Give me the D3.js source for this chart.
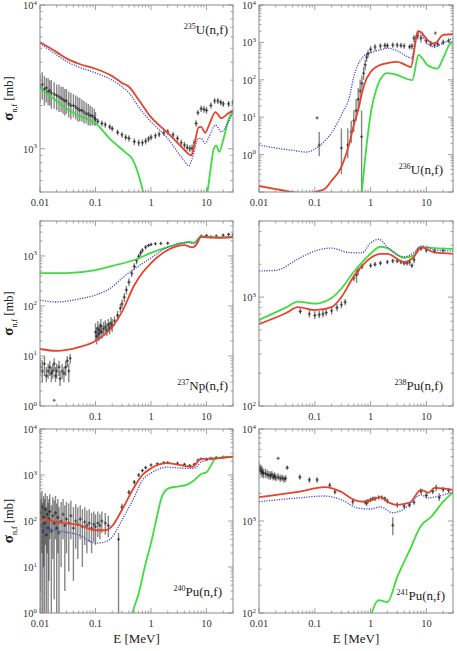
<!DOCTYPE html>
<html>
<head>
<meta charset="utf-8">
<script src="https://cdnjs.cloudflare.com/ajax/libs/d3/7.8.5/d3.min.js"></script>
<style>
body { margin: 0; background: #fff; }
svg { display: block; }
</style>
</head>
<body>
<div id="chart"></div>
<script>
// energy axis (MeV) and the tick labels
var E_DOMAIN = [0.01, 30];
var E_LABELS = [0.01, 0.1, 1, 10];

// ---- 235U(n,f) ----  [E, sigma]
var u235Red = [[0.01,5500],[0.02,4700],[0.03,4250],[0.05,3900],[0.1,3600],[0.2,3200],[0.3,2870],[0.4,2700],[0.6,2190],[1,1660],[2,1290],[3,1100],[4,980],[5.3,900],[6,1050],[7.2,1410],[8,1420],[9.5,1290],[11,1450],[14.5,1800],[18.6,1630],[24,1750],[30,1850]];
var u235Blue = [[0.01,5400],[0.02,4500],[0.03,4050],[0.05,3700],[0.1,3370],[0.2,3000],[0.3,2700],[0.4,2450],[0.6,1950],[1,1540],[2,1180],[3,950],[4,820],[4.8,760],[5.5,850],[7.2,1180],[8,1180],[9.5,1090],[11,1200],[14.5,1460],[18.6,1310],[24,1500],[30,1780]];
var u235Green = [[0.01,2640],[0.02,2150],[0.03,1900],[0.05,1700],[0.1,1510],[0.178,1180],[0.35,940],[0.46,850],[0.61,640],[0.72,500],[0.9,300],[8,300],[10.4,500],[12,750],[13.5,1000],[15,1050],[17,950],[20,1150],[25,1600],[30,1850]];
// experimental points [E, sigma, low, high]
var u235Exp = [[0.010,2700,2100,3300],[0.011,2800,2200,3400],[0.012,2600,2000,3200],[0.013,2650,2100,3100],[0.014,2500,2000,3100],[0.015,2550,2000,3000],[0.016,2450,1900,3000],[0.018,2400,1900,2900],[0.020,2350,1850,2800],[0.022,2300,1800,2800],[0.024,2250,1800,2700],[0.026,2200,1750,2700],[0.028,2150,1700,2600],[0.030,2150,1750,2600],[0.033,2050,1650,2500],[0.036,2000,1600,2450],[0.040,2000,1650,2400],[0.044,1950,1600,2350],[0.048,1900,1550,2300],[0.052,1850,1550,2250],[0.057,1850,1550,2200],[0.062,1800,1500,2150],[0.068,1750,1500,2100],[0.074,1750,1450,2050],[0.080,1700,1450,2000],[0.087,1700,1450,1950],[0.095,1650,1450,1900],[0.100,1600,1450,1800],
  [0.11,1550,1480,1620],[0.13,1500,1430,1570],[0.15,1470,1400,1540],[0.18,1420,1360,1480],[0.2,1380,1320,1440],[0.25,1300,1240,1360],[0.3,1250,1190,1310],[0.35,1200,1140,1260],[0.4,1180,1120,1240],[0.5,1120,1060,1180],[0.6,1100,1040,1160],[0.7,1100,1040,1160],[0.8,1130,1070,1190],[0.9,1170,1110,1230],[1.0,1200,1140,1260],[1.2,1230,1170,1290],[1.4,1260,1200,1320],[1.7,1290,1230,1350],[2.0,1310,1250,1370],[2.5,1250,1190,1310],[3.0,1180,1120,1240],[3.5,1100,1040,1160],[4.0,1060,1000,1120],[4.5,1020,970,1080],[5.0,1000,950,1060],[5.5,1010,960,1070],[6.0,1100,1040,1160],[6.5,1500,1420,1580],[7.0,1780,1700,1860],[8.0,1900,1800,2000],[9.0,1880,1780,1980],[10,1850,1750,1950],[12,2000,1900,2100],[14,2150,2050,2250],[16,2150,2050,2250],[18,2100,2000,2200],[20,2050,1950,2150],[25,2050,1950,2150],[30,2100,2000,2200]];

// ---- 236U(n,f) ----
var u236Red = [[0.01,0.145],[0.02,0.12],[0.03,0.107],[0.05,0.095],[0.07,0.09],[0.1,0.1],[0.15,0.12],[0.2,0.2],[0.3,0.47],[0.4,1.6],[0.5,6.2],[0.6,15.5],[0.7,44],[0.8,87],[1,162],[1.5,250],[2,280],[3,300],[4,260],[5.3,220],[6.3,900],[7,2000],[8,1900],[10,1250],[14,930],[20,1590],[30,1650]];
var u236Blue = [[0.01,1.8],[0.02,1.5],[0.04,1.3],[0.07,1.17],[0.1,1.4],[0.15,2.3],[0.2,3.8],[0.3,11.5],[0.42,36],[0.5,120],[0.7,380],[1,530],[1.5,630],[2,700],[3,600],[4,460],[5.5,380],[6.3,1200],[7,1780],[8,1700],[10,1000],[14,760],[20,960],[30,1300]];
var u236Green = [[0.55,0.02],[0.69,0.1],[0.84,1.6],[1.03,15.6],[1.26,54],[1.55,112],[2,150],[3,135],[4.5,105],[5.6,98],[7.2,460],[8.2,400],[10.4,250],[15.8,200],[20,380],[27,960],[30,1050]];
var u236Exp = [[0.11,9.6,9.6,9.6],[0.12,1.8,0.9,4],[0.3,1.5,0.3,5],[0.39,1.8,0.8,5],[0.45,4,2,8],[0.5,8,4,15],[0.55,15,8,30],[0.6,30,15,60],[0.65,50,30,100],[0.69,3,0.1,15],[0.7,80,50,130],[0.75,150,100,220],[0.8,250,180,350],[0.85,400,300,520],[0.9,500,400,620],[1.0,650,520,800],[1.2,750,600,900],[1.5,800,650,950],[1.8,830,680,980],[2.0,820,700,980],[2.5,850,720,1000],[3.0,850,720,1000],[3.5,830,700,980],[4.0,800,680,950],[5.0,760,650,900],[5.5,800,650,950],[6.0,1300,1000,1600],[7.0,1500,1200,1900],[8.0,1300,1000,1600],[10,1100,900,1350],[12,900,750,1100],[14,850,700,1050],[16,900,750,1100],[20,1000,850,1200],[25,1100,950,1300],[14.5,1780,1780,1780]];

// ---- 237Np(n,f) ----
var np237Red = [[0.01,13.8],[0.02,12.6],[0.05,15],[0.1,20],[0.2,38],[0.3,76],[0.5,260],[0.7,460],[1,720],[2,1320],[4,1650],[5.5,1480],[6.5,1650],[8,2400],[10,2350],[15,2300],[30,2350]];
var np237Blue = [[0.01,131],[0.02,120],[0.05,138],[0.1,166],[0.2,240],[0.3,360],[0.5,550],[1,910],[2,1500],[5,1850],[6,1750],[8,2450],[10,2400],[15,2350],[30,2400]];
var np237Green = [[0.01,455],[0.03,455],[0.1,520],[0.2,630],[0.5,830],[1,1150],[2,1500],[5,1900],[6,1850],[8,2500],[10,2400],[15,2350],[30,2400]];
var np237Exp = [[0.010,6,4,9],[0.011,5,3,8],[0.012,7,4,10],[0.013,4,3,6],[0.014,5,3.5,7],[0.015,6,4,8],[0.016,4.5,3,6],[0.017,5,3.5,7],[0.018,7,5,9],[0.019,4,3,6],[0.020,5,3.5,7],[0.022,6,4,8],[0.023,3.5,2.5,5],[0.025,5,3.5,7],[0.027,4.5,3,6],[0.029,6,4,8],[0.031,8,6,10],[0.033,5,3,7],[0.035,9,7,11],[0.018,1.3,1.3,1.3],
  [0.10,30,20,45],[0.105,25,17,38],[0.11,35,22,50],[0.115,28,20,40],[0.12,32,22,45],[0.125,40,28,55],[0.13,30,22,42],[0.14,35,25,48],[0.15,38,28,52],[0.16,33,25,45],[0.17,42,30,55],[0.18,36,27,48],[0.19,45,33,60],[0.20,40,30,55],
  [0.22,50,40,62],[0.25,65,52,80],[0.28,90,75,110],[0.3,110,90,135],[0.33,150,120,180],[0.36,210,170,250],[0.4,300,250,360],[0.45,450,380,530],[0.5,620,520,720],[0.55,800,680,920],[0.6,980,850,1100],[0.65,1150,1000,1300],[0.7,1300,1150,1450],[0.8,1500,1350,1650],[0.9,1620,1500,1750],[1.0,1700,1580,1820],[1.2,1750,1650,1850],[1.5,1780,1680,1880],[2.0,1800,1700,1900],
  [8,2500,2350,2650],[10,2550,2400,2700],[12,2400,2250,2550],[15,2500,2350,2650],[20,2600,2450,2750],[25,2700,2550,2850],[30,2650,2500,2800]];

// ---- 238Pu(n,f) ----
var pu238Red = [[0.01,565],[0.03,710],[0.05,810],[0.1,760],[0.2,810],[0.3,1000],[0.5,1550],[1,2290],[1.5,2500],[2,2500],[4,2100],[6,2350],[8,2880],[14,2570],[30,2500]];
var pu238Blue = [[0.01,1740],[0.02,1760],[0.05,2240],[0.1,2650],[0.2,2820],[0.4,2570],[0.7,2550],[1,3140],[1.4,3400],[2,2880],[3,2440],[4,2350],[6,2570],[8,2940],[10,2900],[14,2700],[30,2650]];
var pu238Green = [[0.01,616],[0.03,800],[0.05,910],[0.1,870],[0.2,980],[0.3,1200],[0.5,1700],[1,2500],[1.5,2900],[2,2820],[4,2290],[6,2440],[8,2880],[14,2820],[30,2770]];
var pu238Exp = [[0.055,740,700,790],[0.08,700,650,760],[0.1,680,630,740],[0.12,690,640,750],[0.14,700,650,760],[0.16,720,670,780],[0.2,750,690,820],[0.25,800,740,870],[0.3,850,790,920],[0.35,900,840,960],[0.5,1500,1400,1600],[0.56,1600,1350,1780],[0.6,1750,1600,1900],[0.7,1900,1800,2000],
  [1.0,1950,1850,2050],[1.2,2000,1900,2100],[1.5,2050,1950,2150],[2.0,2100,2000,2200],[2.5,2150,2050,2250],[3.0,2150,2050,2250],[3.5,2100,2000,2200],[4.0,2050,1950,2150],[4.5,2050,1950,2150],[5.0,2100,1950,2250],[5.5,1950,1850,2050],[6.0,2200,2050,2350],[7.0,2700,2550,2850],[8.0,2800,2650,2950],[10,2700,2550,2850],[14,2650,2500,2800],[20,2700,2550,2850]];

// ---- 240Pu(n,f) ----
var pu240Red = [[0.01,117],[0.02,95],[0.05,82],[0.1,63],[0.15,63],[0.2,78],[0.3,175],[0.5,550],[0.7,1000],[1,1400],[2,1820],[4,1580],[5.5,1500],[8,2240],[14,2300],[30,2480]];
var pu240Blue = [[0.01,74],[0.03,57],[0.05,50],[0.1,33],[0.15,35],[0.2,45],[0.3,105],[0.5,330],[0.7,770],[1,1100],[2,1480],[4,1400],[6,1400],[8,1910],[14,2240],[30,2480]];
var pu240Green = [[0.35,0.3],[0.46,1],[0.6,2.7],[0.8,12],[1,33],[1.28,124],[1.57,340],[2.1,520],[3,560],[4.5,620],[6,770],[8,1050],[10,1150],[12,1600],[14,2200],[20,2450],[30,2500]];
var pu240Exp = [[0.0100,150,3,400],[0.0104,80,1,300],[0.0108,200,20,450],[0.0112,60,1,250],[0.0116,120,10,350],[0.012,90,1,300],[0.0125,180,30,400],[0.013,50,1,200],[0.0135,140,20,350],[0.014,70,1,250],[0.0145,110,5,300],[0.015,160,40,380],[0.016,60,1,220],[0.017,130,15,330],[0.018,90,2,280],[0.019,150,40,350],[0.020,70,1,240],[0.021,120,20,300],[0.022,55,1,200],[0.024,100,10,260],[0.026,140,40,300],[0.028,80,3,220],[0.030,110,20,260],[0.033,90,8,240],[0.036,130,40,280],[0.040,70,5,200],[0.044,100,25,230],[0.048,85,15,200],[0.053,110,40,220],[0.058,75,10,180],[0.064,95,30,200],[0.07,80,20,170],[0.077,90,35,180],[0.085,70,20,150],[0.093,85,35,160],[0.10,75,30,140],[0.11,90,45,160],[0.12,80,40,140],[0.13,100,55,160],[0.15,90,50,150],[0.17,80,45,130],[0.26,40,1,55],
  [0.3,200,170,240],[0.4,420,370,480],[0.5,700,620,780],[0.6,1000,900,1100],[0.7,1250,1150,1350],[0.8,1450,1350,1550],[1.0,1650,1550,1750],[1.3,1750,1650,1850],[1.7,1850,1750,1950],[2.0,1850,1750,1950],[3.0,1800,1700,1900],[4.0,1700,1600,1800],[5.0,1600,1500,1700],[6.0,1700,1600,1800],[7.0,2100,2000,2200],[8.0,2250,2150,2350],[10,2200,2100,2300],[12,2300,2200,2400],[15,2400,2300,2500],[20,2450,2350,2550]];

// ---- 241Pu(n,f) ----
var pu241Red = [[0.01,1820],[0.05,2070],[0.15,2340],[0.3,2070],[0.5,1700],[0.8,1620],[1.5,1820],[2,1620],[3,1500],[5,1580],[8,2180],[11,2030],[14,2290],[30,2180]];
var pu241Blue = [[0.01,1620],[0.05,1780],[0.15,1870],[0.3,1700],[0.6,1380],[1,1350],[1.5,1420],[2.5,1230],[4,1350],[8,1920],[11,1780],[14,1820],[30,2070]];
var pu241Green = [[0.8,50],[1.05,100],[1.4,138],[2,131],[3,245],[5,480],[8,890],[12,1100],[20,1620],[30,2050]];
var pu241Exp = [[0.0100,3800,3400,4300],[0.0105,3600,3200,4100],[0.011,3500,3100,4000],[0.0115,3400,3000,3900],[0.012,3300,2900,3700],[0.013,3300,2950,3700],[0.014,3200,2900,3600],[0.015,3150,2850,3500],[0.016,3100,2800,3450],[0.017,3200,2900,3500],[0.018,3000,2750,3300],[0.019,3100,2800,3400],[0.020,2950,2700,3250],[0.022,3000,2750,3300],[0.024,2900,2650,3200],[0.026,2950,2700,3200],[0.028,2850,2600,3100],[0.030,2900,2650,3150],
  [0.022,4800,4800,4800],[0.032,3800,3600,4000],[0.054,3000,2800,3200],[0.08,2800,2600,3000],[0.11,2800,2600,3000],[0.185,2450,2300,2600],[0.23,2070,1950,2200],[0.48,1620,1500,1750],[0.85,1570,1450,1700],
  [0.8,1600,1500,1700],[0.9,1650,1550,1750],[1.0,1700,1600,1800],[1.1,1750,1650,1850],[1.2,1750,1650,1850],[1.4,1800,1700,1900],[1.6,1800,1700,1900],[1.8,1750,1650,1850],[2.0,1650,1550,1750],[2.5,900,700,1100],
  [3,1500,1400,1600],[4,1450,1350,1550],[5,1500,1400,1600],[6,1600,1500,1700],[8,2100,1950,2250],[10,1900,1750,2050],[13,2100,1950,2250],[15,2300,2100,2500],[17,1800,1650,2000],[20,2200,2050,2350],[25,2150,2000,2300]];

// panel layout
var cols = [[40, 233], [259, 453]];
var rows = [[5, 192], [221, 406], [429, 613]];

var panels = [
  {row: 0, col: 0, ydom: [500, 1e4], iso: "235", react: "U(n,f)", lx: 5, ly: 34,
   red: u235Red, blue: u235Blue, green: u235Green, exp: u235Exp, xlab: E_LABELS},
  {row: 0, col: 1, ydom: [0.1, 1e4], iso: "236", react: "U(n,f)", lx: 10, ly: 174, hideMin: true,
   red: u236Red, blue: u236Blue, green: u236Green, exp: u236Exp, xlab: E_LABELS},
  {row: 1, col: 0, ydom: [1, 5000], iso: "237", react: "Np(n,f)", lx: 5, ly: 390,
   red: np237Red, blue: np237Blue, green: np237Green, exp: np237Exp, xlab: E_LABELS.slice(1)},
  {row: 1, col: 1, ydom: [100, 5000], iso: "238", react: "Pu(n,f)", lx: 10, ly: 390,
   red: pu238Red, blue: pu238Blue, green: pu238Green, exp: pu238Exp, xlab: E_LABELS.slice(1)},
  {row: 2, col: 0, ydom: [1, 1e4], iso: "240", react: "Pu(n,f)", lx: 11, ly: 596,
   red: pu240Red, blue: pu240Blue, green: pu240Green, exp: pu240Exp, xlab: E_LABELS},
  {row: 2, col: 1, ydom: [100, 1e4], iso: "241", react: "Pu(n,f)", lx: 8, ly: 600,
   red: pu241Red, blue: pu241Blue, green: pu241Green, exp: pu241Exp, xlab: E_LABELS}
];

var svg = d3.select("#chart").append("svg")
  .attr("width", 457).attr("height", 651)
  .attr("font-family", "'Liberation Serif', 'DejaVu Serif', serif")
  .style("font-family", "'Liberation Serif', 'DejaVu Serif', serif");

// 1..9 x 10^k values inside a log domain
function logTicks(dom) {
  var out = [];
  for (var k = -3; k <= 4; k++) {
    for (var m = 1; m <= 9; m++) {
      var v = +(m * Math.pow(10, k)).toPrecision(6);
      if (v >= dom[0] * 0.999 && v <= dom[1] * 1.001) out.push({v: v, major: m === 1});
    }
  }
  return out;
}

panels.forEach(function (p, i) {
  var xr = cols[p.col], yr = rows[p.row];
  var x = d3.scaleLog().domain(E_DOMAIN).range(xr);
  var y = d3.scaleLog().domain(p.ydom).range([yr[1], yr[0]]);
  var g = svg.append("g");

  g.append("clipPath").attr("id", "clip" + i).append("rect")
    .attr("x", xr[0]).attr("y", yr[0])
    .attr("width", xr[1] - xr[0]).attr("height", yr[1] - yr[0]);
  var plot = g.append("g").attr("clip-path", "url(#clip" + i + ")");

  // experimental points with error bars
  plot.selectAll(".eb").data(p.exp).enter().append("line")
    .attr("x1", function (d) { return x(d[0]); })
    .attr("x2", function (d) { return x(d[0]); })
    .attr("y1", function (d) { return y(d[2]); })
    .attr("y2", function (d) { return y(d[3]); })
    .attr("stroke", "#222").attr("stroke-opacity", 0.55).attr("stroke-width", 1.4);
  plot.selectAll(".pt").data(p.exp).enter().append("path")
    .attr("d", function (d) {
      var cx = x(d[0]), cy = y(d[1]);
      return "M" + (cx - 1.6) + "," + cy + "h3.2M" + cx + "," + (cy - 1.6) + "v3.2";
    })
    .attr("stroke", "#111").attr("stroke-opacity", 0.65).attr("stroke-width", 1.1);

  var line = d3.line()
    .x(function (d) { return x(d[0]); })
    .y(function (d) { return y(d[1]); })
    .curve(d3.curveMonotoneX);

  plot.append("path").datum(p.green).attr("d", line)
    .attr("fill", "none").attr("stroke", "#3fdc3f").attr("stroke-width", 1.8);
  plot.append("path").datum(p.blue).attr("d", line)
    .attr("fill", "none").attr("stroke", "#4646d2").attr("stroke-width", 1.3)
    .attr("stroke-dasharray", "1.2,1.3");
  plot.append("path").datum(p.red).attr("d", line)
    .attr("fill", "none").attr("stroke", "#e6432d").attr("stroke-width", 1.8);

  // frame
  g.append("rect").attr("x", xr[0]).attr("y", yr[0])
    .attr("width", xr[1] - xr[0]).attr("height", yr[1] - yr[0])
    .attr("fill", "none").attr("stroke", "#8a8a8a").attr("stroke-width", 1);

  // ticks inside on all four sides
  var xt = logTicks(E_DOMAIN), yt = logTicks(p.ydom);
  var tk = g.append("g").attr("stroke", "#8a8a8a").attr("stroke-width", 0.8);
  xt.forEach(function (t) {
    var len = t.major ? 5 : 2.5, px = x(t.v);
    tk.append("line").attr("x1", px).attr("x2", px).attr("y1", yr[1]).attr("y2", yr[1] - len);
    tk.append("line").attr("x1", px).attr("x2", px).attr("y1", yr[0]).attr("y2", yr[0] + len);
  });
  yt.forEach(function (t) {
    var len = t.major ? 5 : 2.5, py = y(t.v);
    tk.append("line").attr("y1", py).attr("y2", py).attr("x1", xr[0]).attr("x2", xr[0] + len);
    tk.append("line").attr("y1", py).attr("y2", py).attr("x1", xr[1]).attr("x2", xr[1] - len);
  });

  // y tick labels 10^n
  yt.filter(function (t) { return t.major; }).forEach(function (t) {
    if (p.hideMin && t.v === p.ydom[0]) return;
    var txt = g.append("text").attr("x", xr[0] - 3).attr("y", y(t.v) + 4)
      .attr("text-anchor", "end").attr("font-size", 10.5).attr("fill", "#333");
    txt.append("tspan").text("10");
    txt.append("tspan").attr("dy", -4.5).attr("font-size", 7)
      .text(Math.round(Math.log10(t.v)));
  });

  // x tick labels
  p.xlab.forEach(function (v) {
    g.append("text").attr("x", x(v)).attr("y", yr[1] + 14)
      .attr("text-anchor", "middle").attr("font-size", 10.5).attr("fill", "#333")
      .text(String(v));
  });

  // reaction label
  var lab = g.append("text").attr("x", xr[1] - p.lx).attr("y", p.ly)
    .attr("text-anchor", "end").attr("font-size", 13).attr("fill", "#222");
  lab.append("tspan").attr("font-size", 8).attr("dy", -5).text(p.iso);
  lab.append("tspan").attr("dy", 5).text(p.react);

  // y axis title (left column only)
  if (p.col === 0) {
    var cy = (yr[0] + yr[1]) / 2;
    var ttl = g.append("text")
      .attr("transform", "translate(13," + cy + ") rotate(-90)")
      .attr("text-anchor", "middle").attr("font-size", 12.5).attr("fill", "#222");
    ttl.append("tspan").attr("font-size", 15).attr("font-weight", "bold").text("σ");
    ttl.append("tspan").attr("font-size", 8).attr("dy", 4).text("n,f");
    ttl.append("tspan").attr("dy", -4).text("  [mb]");
  }
});

// energy axis titles
cols.forEach(function (c) {
  svg.append("text").attr("x", (c[0] + c[1]) / 2).attr("y", 643)
    .attr("text-anchor", "middle").attr("font-size", 13).attr("fill", "#222")
    .text("E  [MeV]");
});
</script>
</body>
</html>
